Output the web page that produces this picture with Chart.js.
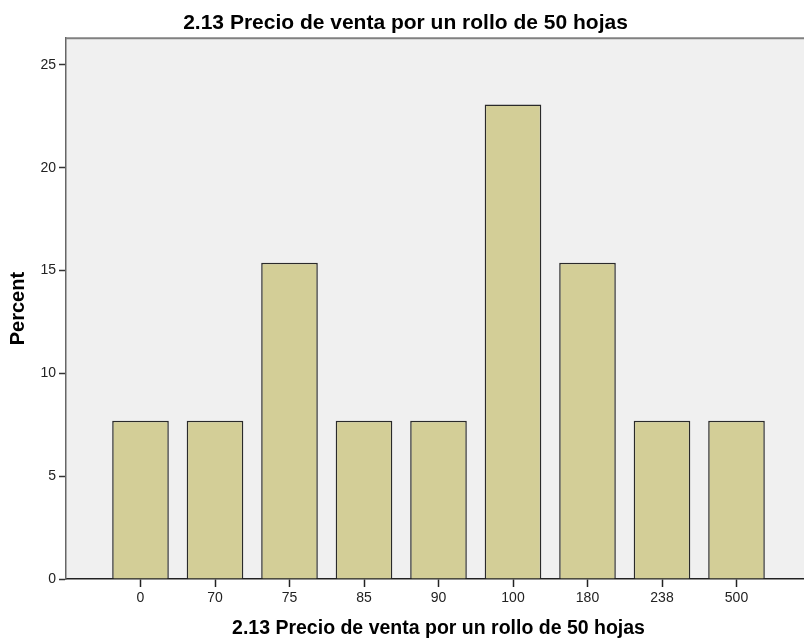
<!DOCTYPE html>
<html><head><meta charset="utf-8">
<script src="https://cdn.jsdelivr.net/npm/chart.js@4/dist/chart.umd.min.js"></script>
<style>html,body{margin:0;padding:0;overflow:hidden;background:#fff;width:804px;height:641px}</style>
</head><body>
<canvas id="c" width="811" height="641" style="display:block;width:811px;height:641px"></canvas>
<script>
const categories = ['0','70','75','85','90','100','180','238','500'];
const percentValues = [7.69, 7.69, 15.38, 7.69, 7.69, 23.08, 15.38, 7.69, 7.69];
const yTicks = [0, 5, 10, 15, 20, 25];
const chartTitle = '2.13 Precio de venta por un rollo de 50 hojas';
const xTitle = '2.13 Precio de venta por un rollo de 50 hojas';
const yTitle = 'Percent';

const FONT = "'Liberation Sans', Arial, sans-serif";

const plotBg = {
  id: 'plotBg',
  beforeDraw(chart) {
    const {ctx, chartArea: a} = chart;
    ctx.save();
    ctx.fillStyle = '#F0F0F0';
    ctx.fillRect(a.left, a.top, a.right - a.left, a.bottom - a.top);
    ctx.restore();
  },
  afterDraw(chart) {
    const {ctx, chartArea: a} = chart;
    ctx.save();
    ctx.strokeStyle = '#808080';
    ctx.lineWidth = 2;
    ctx.beginPath();
    ctx.moveTo(a.left, a.top);
    ctx.lineTo(a.right, a.top);
    ctx.stroke();
    ctx.restore();
  }
};

new Chart(document.getElementById('c'), {
  type: 'bar',
  data: {
    datasets: [{
      data: categories.map((c, i) => ({x: i, y: percentValues[i]})),
      backgroundColor: '#D3CE97',
      borderColor: '#2a2a2a',
      borderWidth: 1.5,
      borderSkipped: 'start',
      categoryPercentage: 1,
      barPercentage: 0.76
    }]
  },
  plugins: [plotBg],
  options: {
    responsive: false,
    devicePixelRatio: 1,
    animation: false,
    layout: {padding: 0},
    plugins: {
      legend: {display: false},
      tooltip: {enabled: false},
      title: {
        display: true,
        text: chartTitle,
        color: '#000',
        font: {family: FONT, size: 21, weight: 'bold'},
        padding: {top: 11, bottom: 2}
      }
    },
    scales: {
      x: {
        type: 'linear',
        min: -1,
        max: 9,
        offset: false,
        afterBuildTicks: s => { s.ticks = categories.map((c, i) => ({value: i})); },
        afterFit: s => { s.height = 62; },
        ticks: {
          callback: v => categories[v] ?? '',
          color: '#222',
          font: {family: FONT, size: 14},
          padding: 3,
          maxRotation: 0,
          autoSkip: false
        },
        grid: {display: true, offset: false, drawOnChartArea: false, drawTicks: true, tickLength: 8, tickColor: '#222', tickWidth: 1.5},
        border: {display: true, color: '#222', width: 1.5},
        title: {
          display: true,
          text: xTitle,
          color: '#000',
          font: {family: FONT, size: 19.5, weight: 'bold'},
          padding: {top: 0, bottom: 1}
        }
      },
      y: {
        min: 0,
        max: 26.3,
        afterBuildTicks: s => { s.ticks = yTicks.map(v => ({value: v})); },
        afterFit: s => { s.width = 66; },
        ticks: {
          color: '#222',
          font: {family: FONT, size: 14},
          padding: 3
        },
        grid: {display: true, drawOnChartArea: false, drawTicks: true, tickLength: 7, tickColor: '#333', tickWidth: 1.5},
        border: {display: true, color: '#666', width: 1.5},
        title: {
          display: true,
          text: yTitle,
          color: '#000',
          font: {family: FONT, size: 20, weight: 'bold'},
          padding: {top: 6, bottom: 0}
        }
      }
    }
  }
});
</script>
</body></html>
